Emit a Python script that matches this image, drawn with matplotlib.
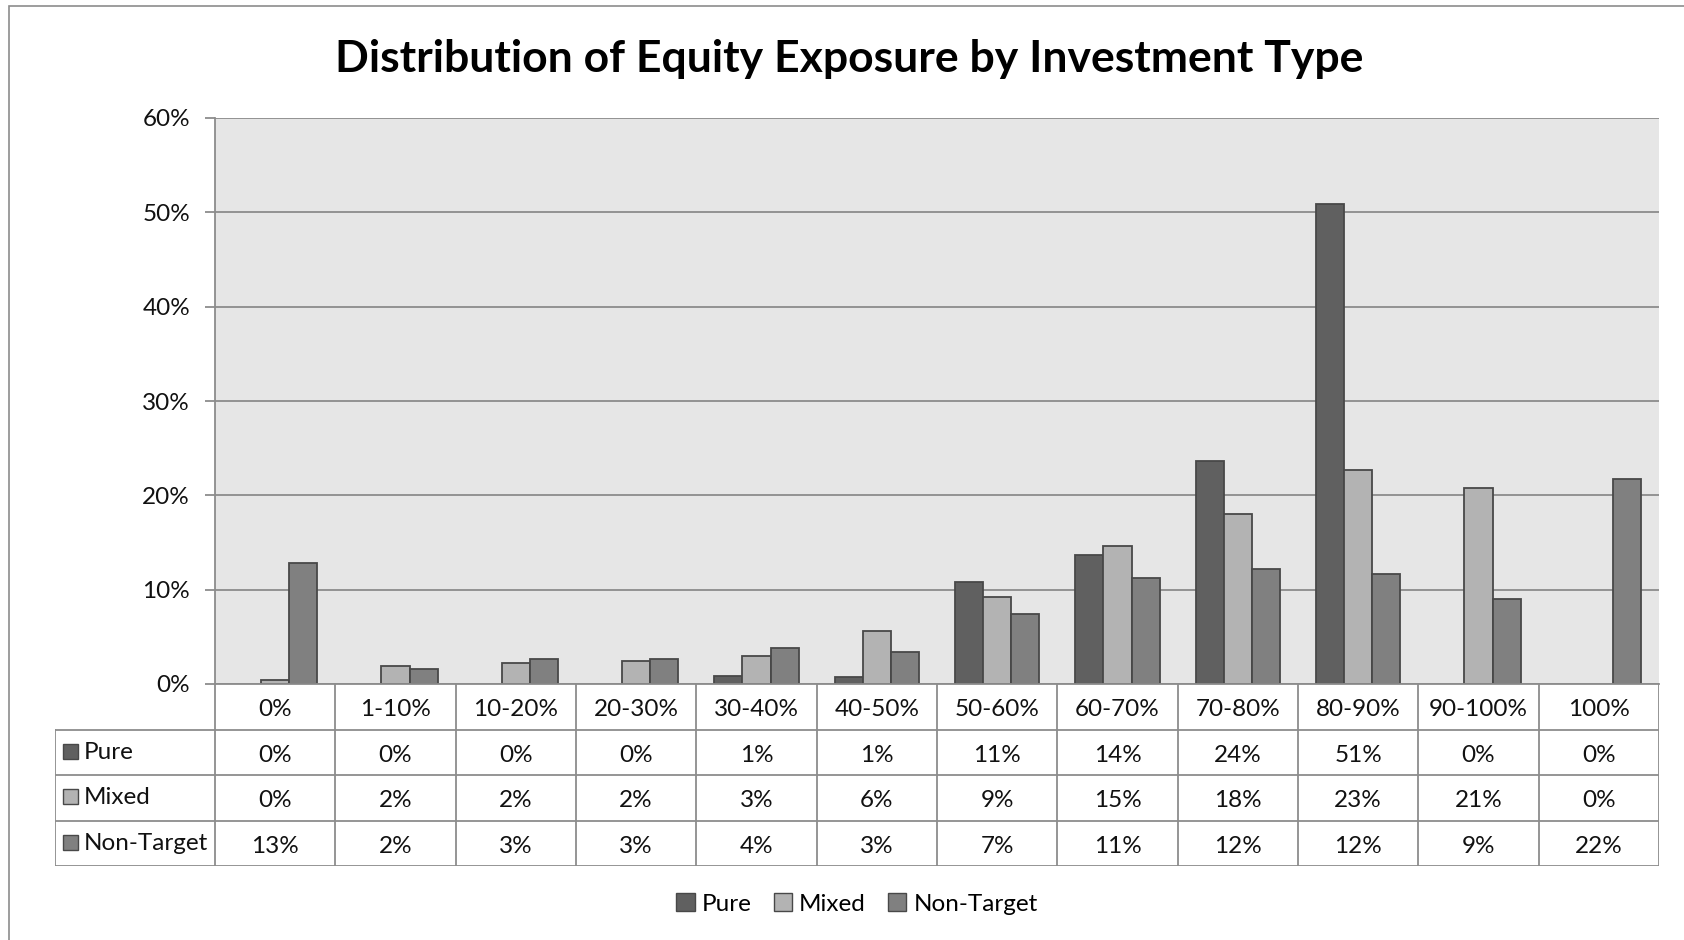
import matplotlib
matplotlib.use("Agg")
import matplotlib.pyplot as plt
from matplotlib.patches import Rectangle, Patch
from matplotlib.lines import Line2D
from matplotlib.ticker import PercentFormatter
import numpy as np

plt.rcParams['font.family'] = ['Lato', 'DejaVu Sans']

categories = ["0%", "1-10%", "10-20%", "20-30%", "30-40%", "40-50%",
              "50-60%", "60-70%", "70-80%", "80-90%", "90-100%", "100%"]
series_names = ["Pure", "Mixed", "Non-Target"]
pure = [0.0, 0.0, 0.0, 0.0, 0.9, 0.7, 10.8, 13.7, 23.6, 50.9, 0.0, 0.0]
mixed = [0.4, 1.9, 2.2, 2.4, 3.0, 5.6, 9.2, 14.6, 18.0, 22.7, 20.8, 0.0]
non_target = [12.8, 1.6, 2.7, 2.7, 3.8, 3.4, 7.4, 11.2, 12.2, 11.7, 9.0, 21.7]
y_ticks = [0, 10, 20, 30, 40, 50, 60]

series = [pure, mixed, non_target]
colors = ["#606060", "#b3b3b3", "#808080"]
edge = "#484848"
grid_c = "#8c8c8c"
txt_c = "#111111"

W, H = 1684, 940
fig = plt.figure(figsize=(W / 100, H / 100), dpi=100)

# outer border (left/top visible)
fig.patches.append(Rectangle((9 / W, -0.05), 1.2, 1 - 6 / H + 0.05, transform=fig.transFigure,
                             fill=False, edgecolor="#8c8c8c", linewidth=1.2))

left, right, top, bottom = 215, 1659, 118, 684
ax = fig.add_axes([left / W, 1 - bottom / H, (right - left) / W, (bottom - top) / H])
ax.set_facecolor("#e6e6e6")
x = np.arange(len(categories))
bw = 0.234
for k, (vals, c) in enumerate(zip(series, colors)):
    lws = [1.3 if v > 0 else 0 for v in vals]
    ax.bar(x + (k - 1) * bw, vals, width=bw, color=c, edgecolor=edge, linewidth=lws, zorder=3)
ax.set_xlim(-0.5, len(categories) - 0.5)
ax.set_ylim(0, 60)
ax.set_yticks(y_ticks)
ax.yaxis.set_major_formatter(PercentFormatter(decimals=0))
ax.yaxis.grid(True, color=grid_c, linewidth=1.3, zorder=1)
ax.set_axisbelow(True)
ax.set_xticks([])
for s in ["right", "top"]:
    ax.spines[s].set_visible(False)
for s in ["left", "bottom"]:
    ax.spines[s].set_color(grid_c)
    ax.spines[s].set_linewidth(1.3)
ax.spines["bottom"].set_zorder(4)
ax.tick_params(axis="y", length=7, width=1.3, color=grid_c, pad=11, labelsize=17.5, labelcolor=txt_c)

# data table
tleft, tbottom = 55, 866
cw = (right - left) / len(categories)
lw_units = (left - tleft) / cw
tax = fig.add_axes([tleft / W, 1 - tbottom / H, (right - tleft) / W, (tbottom - bottom) / H])
tax.set_xlim(-0.5 - lw_units, len(categories) - 0.5)
tax.set_ylim(4, 0)
tax.axis("off")
lkw = dict(color=grid_c, linewidth=1.3, solid_capstyle="projecting")
for r in [1, 2, 3, 4]:
    tax.add_line(Line2D([-0.5 - lw_units, len(categories) - 0.5], [r, r], **lkw))
tax.add_line(Line2D([-0.5 - lw_units] * 2, [1, 4], **lkw))
for i in range(len(categories) + 1):
    tax.add_line(Line2D([i - 0.5] * 2, [0, 4], **lkw))
fs = 17.5
for i, c in enumerate(categories):
    tax.text(i, 0.55, c, ha="center", va="center", fontsize=fs, color=txt_c)
for r, vals in enumerate(series):
    for i, v in enumerate(vals):
        tax.text(i, r + 1.57, f"{v:.0f}%", ha="center", va="center", fontsize=fs, color=txt_c)
    sq_x = -0.5 - lw_units + 8 / cw
    sq = 15 / cw
    sq_h = 15 / ((tbottom - bottom) / 4)
    tax.add_patch(Rectangle((sq_x, r + 1.48 - sq_h / 2), sq, sq_h, facecolor=colors[r],
                            edgecolor=edge, linewidth=1.0))
    tax.text(sq_x + sq + 6 / cw, r + 1.5, series_names[r], ha="left", va="center",
             fontsize=fs, color=txt_c)

# title
fig.text(849 / W, 1 - 59 / H, "Distribution of Equity Exposure by Investment Type",
         ha="center", va="center", fontsize=32, fontweight="bold", color="#000000")

# legend
handles = [Patch(facecolor=c, edgecolor=edge, linewidth=1.0, label=n) for c, n in zip(colors, series_names)]
fig.legend(handles=handles, loc="center", bbox_to_anchor=(857 / W, 1 - 904 / H), ncol=3,
           frameon=False, fontsize=fs, handlelength=0.75, handleheight=0.75,
           handletextpad=0.3, columnspacing=0.9)

fig.savefig("out.png", dpi=100)
